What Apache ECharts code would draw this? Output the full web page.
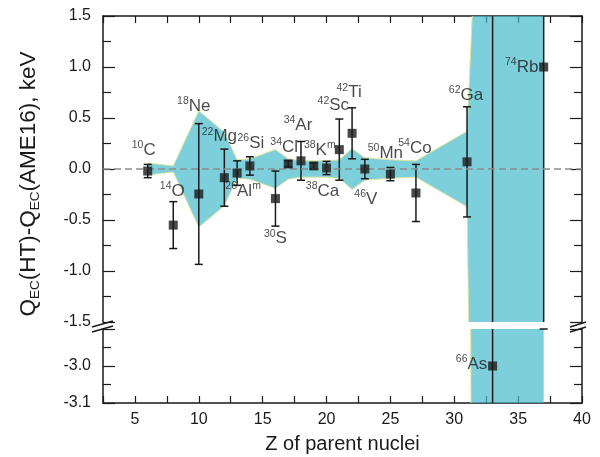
<!DOCTYPE html>
<html><head><meta charset="utf-8">
<script src="https://cdn.jsdelivr.net/npm/echarts@6/dist/echarts.min.js"></script>
<style>html,body{margin:0;padding:0;background:#fff}#c{width:600px;height:457px}</style>
</head><body><div id="c"></div>
<script>
// ---------------- data ----------------
const nucZ   = [6, 8, 10, 12, 13, 14, 16, 17, 18, 19, 20, 21, 22, 23, 25, 27, 31, 33, 37];
const nucA   = [10, 14, 18, 22, 26, 26, 30, 34, 34, 38, 38, 42, 42, 46, 50, 54, 62, 66, 74];
const nucSym = ['C','O','Ne','Mg','Al','Si','S','Cl','Ar','K','Ca','Sc','Ti','V','Mn','Co','Ga','As','Rb'];
const nucIso = ['','','','','m','','','','','m','','','','','','','','',''];
const dQ     = [-0.02, -0.55, -0.245, -0.085, -0.04, 0.03, -0.29, 0.05, 0.08, 0.03, 0.01, 0.19, 0.35, 0.0, -0.05, -0.235, 0.07, -3.0, 1.0];
const dQerr  = [0.065, 0.23, 0.69, 0.28, 0.12, 0.09, 0.27, 0.03, 0.19, 0.03, 0.065, 0.30, 0.25, 0.095, 0.065, 0.28, 0.54, 5.0, 3.9];
// AME16 uncertainty band
const bandZ   = [6, 8, 10, 12, 13, 14, 16, 17, 18, 19, 20, 21, 22, 23, 25, 27, 31, 33, 37];
const bandUp  = [0.06, 0.03, 0.57, 0.36, 0.09, 0.10, 0.19, 0.10, 0.08, 0.08, 0.08, 0.09, 0.20, 0.11, 0.09, 0.08, 0.37, 6, 6];
const bandLow = [-0.06, -0.03, -0.57, -0.36, -0.09, -0.10, -0.19, -0.10, -0.08, -0.08, -0.08, -0.09, -0.20, -0.11, -0.09, -0.08, -0.37, -18, -18];
// axes
const xRange = [2.5, 40];
const yUpperRange = [-1.5, 1.5];
const yLowerRange = [-3.1, -2.9];

// ---------------- layout / style ----------------
const labelOffset = [[-4,-21],[-1,-34],[-5,-88],[-5,-41],[6,18],[1,-23],[0,40],[-4,-17],[-3,-36],[6,-16],[-4,23],[-6,-44],[-3,-41],[1,30],[-5,-21],[-1,-45],[-1,-67],[-21,-2],[-22,0]];
const FONT = '"Liberation Sans", Arial, Helvetica, sans-serif';
const INK = '#1a1a1a';
const TEAL = 'rgba(71,186,205,0.7)';
const EDGE = '#dde6a0';
const G = {left: 103, right: 18};
const grids = [
  {left: G.left, right: G.right, top: 16, height: 306},
  {left: G.left, right: G.right, top: 329, height: 74}
];

const chart = echarts.init(document.getElementById('c'), null, {renderer: 'canvas'});

function yAxisCommon(grid, pos, range, interval, showLabel, hideVals) {
  return {
    type: 'value', gridIndex: grid, position: pos, min: range[0], max: range[1], interval: interval,
    axisLine: {show: true, onZero: false, lineStyle: {color: INK, width: 1.5}},
    axisTick: {show: true, inside: true, length: 12, lineStyle: {color: INK, width: 1.2}},
    minorTick: {show: true, splitNumber: 2, length: 8, lineStyle: {color: INK, width: 1.2}},
    splitLine: {show: false}, minorSplitLine: {show: false},
    axisLabel: {show: showLabel, margin: 12, fontSize: 16, color: INK, fontFamily: FONT,
      formatter: v => (hideVals && hideVals.some(h => Math.abs(h - v) < 1e-9)) ? '' : v.toFixed(1)}
  };
}
function xAxisCommon(grid, pos, showLabel) {
  return {
    type: 'value', gridIndex: grid, position: pos, min: xRange[0], max: xRange[1], interval: 2.5,
    axisLine: {show: true, onZero: false, lineStyle: {color: INK, width: 1.5}},
    axisTick: {show: true, inside: true, length: 7, lineStyle: {color: INK, width: 1.2}},
    splitLine: {show: false},
    axisLabel: {show: showLabel, margin: 9, fontSize: 16, color: INK, fontFamily: FONT,
      formatter: v => (Math.abs(v % 5) < 1e-9) ? String(v) : ''}
  };
}

const xAxes = [xAxisCommon(0, 'top', false), xAxisCommon(1, 'bottom', true)];
Object.assign(xAxes[1], {name: 'Z of parent nuclei', nameLocation: 'middle', nameGap: 31,
  nameTextStyle: {fontSize: 20, color: INK, fontFamily: FONT}});

const yAxes = [
  yAxisCommon(0, 'left', yUpperRange, 0.5, true, null),
  yAxisCommon(0, 'right', yUpperRange, 0.5, false, null),
  yAxisCommon(1, 'left', yLowerRange, 0.1, true, [-2.9]),
  yAxisCommon(1, 'right', yLowerRange, 0.1, false, null)
];

function bandRender(params, api) {
  if (params.dataIndex !== 0) return null;
  const cs = params.coordSys;
  const up = bandZ.map((z, i) => api.coord([z, bandUp[i]]));
  const lo = bandZ.map((z, i) => api.coord([z, bandLow[i]]));
  const poly = up.concat(lo.slice().reverse());
  return {
    type: 'group',
    clipPath: {type: 'rect', shape: {x: cs.x, y: cs.y, width: cs.width, height: cs.height}},
    children: [
      {type: 'polygon', shape: {points: poly}, style: {fill: TEAL, stroke: null}},
      {type: 'polyline', shape: {points: up}, style: {stroke: EDGE, lineWidth: 1, fill: null}},
      {type: 'polyline', shape: {points: lo}, style: {stroke: EDGE, lineWidth: 1, fill: null}}
    ]
  };
}
const bandData = bandZ.map((z, i) => [z, bandUp[i], bandLow[i]]);
function bandSeries(gi) {
  return {type: 'custom', xAxisIndex: gi, yAxisIndex: gi * 2, renderItem: bandRender, data: bandData,
    encode: {x: 0, y: [1, 2]}, clip: true, silent: true, z: 2};
}

function errRender(params, api) {
  const z = api.value(0), v = api.value(1), e = api.value(2);
  const cs = params.coordSys;
  const hi = api.coord([z, v + e]), lo = api.coord([z, v - e]);
  const x = hi[0];
  const top = cs.y, bot = cs.y + cs.height;
  const y1 = hi[1], y2 = lo[1];
  if (y2 < top - 0.6 || y1 > bot + 0.6) return null;
  const st = {stroke: INK, lineWidth: 1.5};
  const ch = [{type: 'line', shape: {x1: x, y1: Math.max(y1, top), x2: x, y2: Math.min(y2, bot)}, style: st}];
  const cw = 4;
  if (y1 >= top - 0.6) ch.push({type: 'line', shape: {x1: x - cw, y1: y1, x2: x + cw, y2: y1}, style: st});
  if (y2 <= bot + 0.6) ch.push({type: 'line', shape: {x1: x - cw, y1: y2, x2: x + cw, y2: y2}, style: st});
  return {type: 'group', children: ch};
}
const errData = nucZ.map((z, i) => [z, dQ[i], dQerr[i]]);

function labelText(i) {
  return '{s|' + nucA[i] + '}{t|' + nucSym[i] + '}' + (nucIso[i] ? '{s|' + nucIso[i] + '}' : '');
}
function pointSeries(gi, range) {
  return {
    type: 'scatter', xAxisIndex: gi, yAxisIndex: gi * 2, symbol: 'rect', symbolSize: 9, clip: true, z: 5,
    itemStyle: {color: INK}, silent: true,
    data: nucZ.map((z, i) => {
      const inside = dQ[i] >= range[0] && dQ[i] <= range[1];
      return {value: [z, dQ[i]], label: inside ? {
        show: true, position: 'inside', offset: labelOffset[i], formatter: labelText(i),
        color: INK, fontFamily: FONT,
        rich: {t: {fontSize: 17, lineHeight: 20, fontFamily: FONT, color: INK},
               s: {fontSize: 10.5, lineHeight: 13, verticalAlign: 'top', fontFamily: FONT, color: INK}}
      } : {show: false}};
    })
  };
}

const series = [
  bandSeries(0),
  bandSeries(1),
  {
    type: 'custom', xAxisIndex: 0, yAxisIndex: 0, renderItem: errRender, data: errData, z: 4, silent: true,
    encode: {x: 0, y: 1},
    markLine: {silent: true, symbol: 'none', label: {show: false},
      lineStyle: {color: '#8c8c8c', width: 1.5, type: [7, 4]}, data: [{yAxis: 0}]}
  }, {
    type: 'custom', xAxisIndex: 1, yAxisIndex: 2, renderItem: errRender, data: errData, z: 4, silent: true,
    encode: {x: 0, y: 1}
  },
  pointSeries(0, yUpperRange),
  pointSeries(1, yLowerRange)
];

// axis-break marks and y-axis title
const brk = {stroke: INK, lineWidth: 1.5};
const graphic = [
  {type: 'line', shape: {x1: 92, y1: 327, x2: 113, y2: 321}, style: brk, z: 10},
  {type: 'line', shape: {x1: 92, y1: 332, x2: 113, y2: 326}, style: brk, z: 10},
  {type: 'line', shape: {x1: 570, y1: 327, x2: 586, y2: 322}, style: brk, z: 10},
  {type: 'line', shape: {x1: 570, y1: 332, x2: 586, y2: 327}, style: brk, z: 10},
  {type: 'text', x: 29, y: 184, rotation: Math.PI / 2, z: 10,
   style: {text: '{m|Q}{s|EC}{m|(HT)-Q}{s|EC}{m|(AME16), keV}', align: 'center', verticalAlign: 'middle',
     fill: INK, font: '22px ' + FONT,
     rich: {m: {fontSize: 22.5, fontFamily: FONT, fill: INK, lineHeight: 26},
            s: {fontSize: 13.5, fontFamily: FONT, fill: INK, verticalAlign: 'bottom', lineHeight: 14}}}}
];

chart.setOption({
  animation: false,
  backgroundColor: '#fff',
  textStyle: {fontFamily: FONT},
  grid: grids,
  xAxis: xAxes,
  yAxis: yAxes,
  series: series,
  graphic: graphic
});
</script></body></html>
